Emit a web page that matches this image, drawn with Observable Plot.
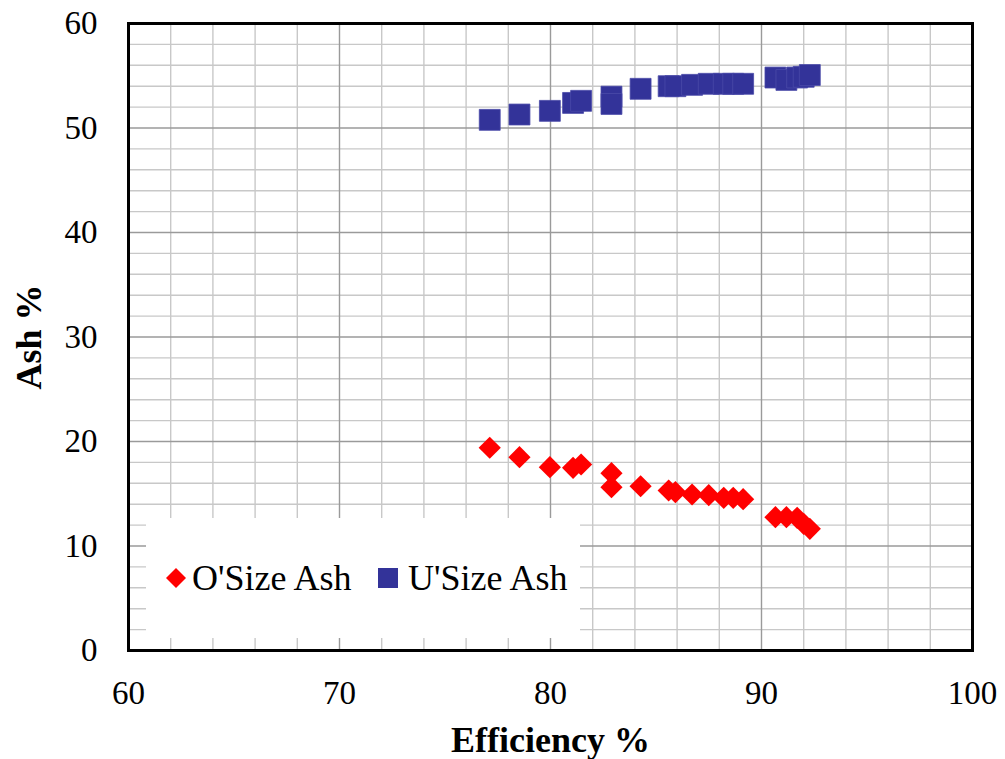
<!DOCTYPE html>
<html><head><meta charset="utf-8">
<script src="https://cdn.jsdelivr.net/npm/d3@7"></script>
<script src="https://cdn.jsdelivr.net/npm/@observablehq/plot@0.6"></script>
<style>
body{margin:0;background:#fff;}
#wrap{position:relative;width:1005px;height:759px;font-family:"Liberation Serif","Times New Roman",Times,"DejaVu Serif",serif;}
#legend{position:absolute;left:146px;top:518px;width:434px;height:120px;background:#fff;font-size:36px;color:#000;}
#legend .item{position:absolute;top:0;height:120px;display:flex;align-items:center;white-space:nowrap;}
#legend svg{display:block;}
svg.plot text{font-family:"Liberation Serif","Times New Roman",Times,"DejaVu Serif",serif;}
g[aria-label="x-axis label"] text, g[aria-label="y-axis label"] text{font-weight:bold;font-size:36px;}
</style></head>
<body><div id="wrap"></div>
<script>
// Data
const efficiency = [77.12, 78.53, 79.97, 81.07, 81.45, 82.89, 82.89, 84.27, 85.60, 85.92, 86.71, 87.50, 88.21, 88.66, 89.13, 90.66, 91.18, 91.69, 92.00, 92.29];
const oSizeAsh   = [19.40, 18.50, 17.54, 17.48, 17.80, 16.97, 15.63, 15.72, 15.31, 15.15, 14.93, 14.86, 14.61, 14.61, 14.48, 12.76, 12.76, 12.70, 12.12, 11.64];
const uSizeAsh   = [50.78, 51.29, 51.64, 52.40, 52.60, 53.00, 52.30, 53.75, 54.00, 54.00, 54.13, 54.23, 54.23, 54.23, 54.23, 54.83, 54.60, 54.83, 54.90, 55.07];
const seriesNames = ["O'Size Ash", "U'Size Ash"];
const xTicks = [60, 70, 80, 90, 100];
const yTicks = [0, 10, 20, 30, 40, 50, 60];

const oData = efficiency.map((e, i) => ({eff: e, ash: oSizeAsh[i]}));
const uData = efficiency.map((e, i) => ({eff: e, ash: uSizeAsh[i]}));

const xMinor = d3.range(60, 101, 2).filter(v => v % 10 !== 0);
const yMinor = d3.range(0, 61, 2).filter(v => v % 10 !== 0);

const chart = Plot.plot({
  width: 1005,
  height: 759,
  marginLeft: 128,
  marginRight: 33,
  marginTop: 23,
  marginBottom: 109,
  style: {fontFamily: "'Liberation Serif','Times New Roman',Times,'DejaVu Serif',serif", fontSize: "33px", color: "#000", background: "#fff"},
  x: {domain: [60, 100], ticks: xTicks, tickSize: 0, tickPadding: 30, label: "Efficiency %", labelArrow: "none", labelAnchor: "center", labelOffset: 101},
  y: {domain: [0, 60], ticks: yTicks, tickSize: 0, tickPadding: 31, label: "Ash %", labelArrow: "none", labelAnchor: "center", labelOffset: 113},
  marks: [
    Plot.ruleX(xMinor, {stroke: "#c8c8c8", strokeWidth: 1.4}),
    Plot.ruleY(yMinor, {stroke: "#c8c8c8", strokeWidth: 1.4}),
    Plot.ruleX(xTicks, {stroke: "#9a9a9a", strokeWidth: 1.4}),
    Plot.ruleY(yTicks, {stroke: "#9a9a9a", strokeWidth: 1.4}),
    Plot.dot(uData, {x: "eff", y: "ash", symbol: "square", r: 11.8, fill: "#333399", stroke: "#4a4aa8", strokeWidth: 0.8}),
    Plot.dot(oData, {x: "eff", y: "ash", symbol: "diamond2", r: 10, fill: "#ff0000", stroke: "none"}),
    Plot.frame({stroke: "#000", strokeWidth: 3})
  ]
});
const wrap = document.getElementById("wrap");
wrap.appendChild(chart);

// Legend box inside the plot area
const legend = document.createElement("div");
legend.id = "legend";
legend.innerHTML =
  `<div class="item" style="left:19px"><svg width="22" height="22" viewBox="-11 -11 22 22"><path d="M0,-10L10,0L0,10L-10,0Z" fill="#ff0000"/></svg><span style="margin-left:5px">${seriesNames[0]}</span></div>` +
  `<div class="item" style="left:232px"><svg width="20" height="20"><rect x="0" y="0" width="20" height="20" fill="#333399"/></svg><span style="margin-left:10px">${seriesNames[1]}</span></div>`;
wrap.appendChild(legend);
</script>
</body></html>
